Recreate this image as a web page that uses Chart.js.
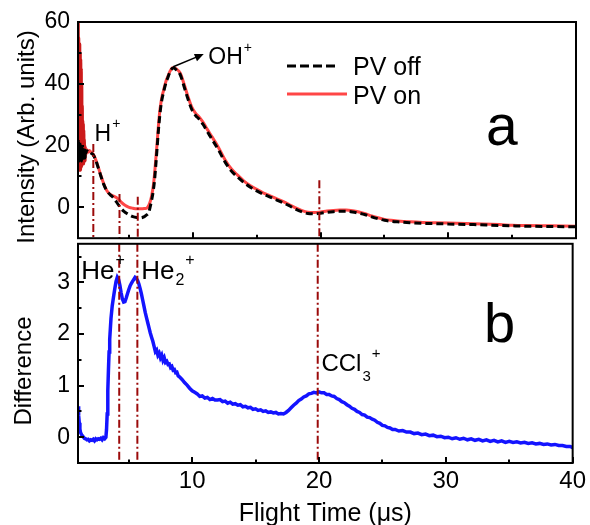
<!DOCTYPE html>
<html><head><meta charset="utf-8">
<script src="https://cdn.jsdelivr.net/npm/chart.js@4.4.0/dist/chart.umd.min.js"></script>
<style>
html,body{margin:0;padding:0;background:#fff;}
#wrap{position:relative;width:590px;height:525px;overflow:hidden;background:#fff;}
canvas{position:absolute;left:0;}
#cA{top:0;}
#cB{top:222px;}
</style></head><body>
<div id="wrap"><canvas id="cA" width="590" height="260"></canvas><canvas id="cB" width="590" height="303"></canvas></div>
<script>
// ---------- data ----------
const timeA = [
1.00,1.02,1.04,1.06,1.08,1.10,1.12,1.14,1.16,1.18,
1.20,1.22,1.24,1.26,1.28,1.30,1.32,1.34,1.36,1.38,
1.40,1.42,1.44,1.46,1.48,1.50,1.52,1.54,1.56,1.58,
1.60,1.70,1.80,1.90,2.00,2.10,2.20,
2.40,2.60,2.80,3.00,3.20,3.40,3.60,3.80,4.00,4.20,
4.40,4.60,4.80,5.00,5.30,5.60,5.90,6.20,6.40,6.50,
6.60,6.70,6.80,6.90,7.00,7.10,7.20,7.30,7.40,7.50,
7.60,7.70,7.80,7.90,8.00,8.20,8.40,8.50,8.70,9.00,
9.30,9.60,9.90,10.20,10.50,10.80,11.10,11.50,12.00,12.50,
13.00,13.50,14.00,14.50,15.00,15.50,16.00,16.50,17.00,17.50,
18.00,18.50,19.00,19.50,20.00,20.50,21.00,21.50,22.00,22.50,
23.00,23.50,24.00,24.50,25.00,25.50,26.00,27.00,28.00,29.00,
30.00,32.00,34.00,35.00,36.00,38.00,40.00];
const pvOn = [
13,60,12,55,13,52,12,53,14,50,
12,48,15,45,13,40,15,33,14,28,
16,27,14,25,15,22,16,20,15,19.5,
17,18.6,17.8,18.4,17.9,17.6,17.2,
15.3,12.8,10.2,7.8,5.8,4.6,4.0,3.6,3.2,2.5,
1.6,0.9,0.4,0.0,-0.3,-0.5,-0.5,-0.4,-0.2,0.3,
1.2,2.5,4.5,7.0,11,16,21,26.5,31,34,
36.3,37.8,39.5,41,42,44,45.2,45.3,44.8,43.5,
40,36,32.5,30.5,29.2,27.5,25.4,22.8,19.4,15.5,
12.5,10.4,8.5,7.0,5.8,4.7,3.8,2.9,2.0,1.0,
-0.1,-1.0,-1.6,-1.7,-1.5,-1.2,-1.0,-0.9,-0.9,-1.1,
-1.5,-2.1,-2.8,-3.4,-3.9,-4.2,-4.4,-4.7,-4.9,-5.0,
-5.1,-5.3,-5.6,-5.8,-5.9,-6.0,-6.1];
const pvOff = [
16,22,15,21,16,20,15,21,16,20,
15,20,16,19,15,20,16,19,15,19,
16,19,15,18.5,16,18.5,16,18.5,16,18.5,
17.5,18.3,18.0,18.2,17.7,17.3,17.0,
15.1,12.6,10.0,7.6,5.8,4.6,3.8,3.0,1.8,0.6,
-0.5,-1.3,-1.9,-2.4,-3.0,-3.3,-3.4,-3.0,-2.4,-2.0,
-0.8,1.0,3.0,5.5,9,14,19.5,25,29.5,33,
35.5,37.2,39,40.5,41.6,43.8,45,45.1,44.5,43,
39.2,35.2,31.8,29.8,28.5,26.8,24.7,22,18.6,14.8,
11.8,9.8,8.0,6.5,5.3,4.3,3.4,2.5,1.6,0.6,
-0.5,-1.4,-2.0,-2.1,-1.9,-1.6,-1.4,-1.3,-1.3,-1.5,
-1.9,-2.4,-3.1,-3.7,-4.2,-4.5,-4.7,-5.0,-5.2,-5.3,
-5.4,-5.6,-5.9,-6.0,-6.1,-6.2,-6.3];

const timeB = [
1.0,1.05,1.1,1.15,1.2,1.3,1.4,1.5,1.6,1.7,
1.8,1.9,2.0,2.1,2.2,2.3,2.4,2.5,2.6,2.7,
2.8,2.9,3.0,3.1,3.2,3.25,3.3,3.35,3.4,3.45,
3.5,3.6,3.7,3.8,3.9,4.0,4.1,4.2,4.3,4.4,
4.5,4.6,4.7,4.8,4.9,5.0,5.1,5.2,5.3,5.4,
5.5,5.6,5.7,5.8,5.9,6.0,6.1,6.2,6.3,6.4,
6.5,6.6,6.7,6.8,6.9,7.0,7.1,7.2,7.3,7.4,
7.5,7.6,7.7,7.8,7.9,8.0,8.1,8.2,8.3,8.4,
8.5,8.6,8.7,8.8,8.9,9.0,9.2,9.4,9.6,9.8,
10.0,10.2,10.4,10.6,10.8,11.0,11.2,11.4,11.6,11.8,
12.0,12.2,12.4,12.6,12.8,13.0,13.2,13.4,13.6,13.8,
14.0,14.2,14.4,14.6,14.8,15.0,15.2,15.4,15.6,15.8,
16.0,16.2,16.4,16.6,16.8,17.0,17.2,17.4,17.6,17.8,
18.0,18.2,18.4,18.6,18.8,19.0,19.2,19.4,19.6,19.8,
20.0,20.2,20.4,20.6,20.8,21.0,21.2,21.4,21.6,21.8,
22.0,22.2,22.4,22.6,22.8,23.0,23.2,23.4,23.6,23.8,
24.0,24.2,24.4,24.6,24.8,25.0,25.2,25.4,25.6,25.8,
26.0,26.3,26.6,26.9,27.2,27.5,27.8,28.1,28.4,28.7,
29.0,29.3,29.6,29.9,30.2,30.5,30.8,31.1,31.4,31.7,
32.0,32.3,32.6,32.9,33.2,33.5,33.8,34.1,34.4,34.7,
35.0,35.3,35.6,35.9,36.2,36.5,36.8,37.1,37.4,37.7,
38.0,38.3,38.6,38.9,39.2,39.5,39.8,40.0];
const diffB = [
0.60,0.42,0.28,0.16,0.09,0.04,0.01,-0.02,-0.03,-0.05,
-0.04,-0.07,-0.05,-0.06,-0.04,-0.07,-0.03,-0.05,-0.03,-0.04,
-0.02,-0.05,-0.01,-0.03,0.00,0.15,0.45,0.90,1.30,1.65,
1.90,2.30,2.55,2.72,2.88,3.02,3.10,3.06,2.95,2.80,
2.68,2.62,2.63,2.70,2.78,2.86,2.93,2.98,3.02,3.06,
3.10,3.08,3.04,2.97,2.88,2.78,2.66,2.54,2.42,2.32,
2.22,2.12,2.02,1.94,1.86,1.76,1.66,1.69,1.59,1.63,
1.54,1.59,1.49,1.54,1.45,1.47,1.41,1.42,1.35,1.37,
1.30,1.31,1.25,1.26,1.19,1.17,1.12,1.06,1.01,0.95,
0.90,0.87,0.84,0.79,0.80,0.76,0.77,0.73,0.75,0.72,
0.72,0.73,0.69,0.70,0.66,0.68,0.64,0.65,0.62,0.63,
0.59,0.60,0.57,0.58,0.54,0.55,0.52,0.53,0.50,0.51,
0.48,0.49,0.47,0.48,0.45,0.46,0.45,0.48,0.52,0.57,
0.62,0.66,0.71,0.74,0.78,0.80,0.84,0.85,0.87,0.86,
0.88,0.86,0.86,0.83,0.83,0.80,0.79,0.75,0.73,0.69,
0.67,0.63,0.60,0.56,0.54,0.50,0.48,0.44,0.43,0.39,
0.38,0.35,0.33,0.29,0.27,0.23,0.22,0.19,0.18,0.15,
0.15,0.12,0.13,0.10,0.10,0.07,0.08,0.05,0.06,0.03,
0.04,0.01,0.02,-0.01,0.00,-0.03,-0.01,-0.04,-0.02,-0.05,
-0.03,-0.06,-0.04,-0.07,-0.05,-0.08,-0.06,-0.09,-0.07,-0.10,
-0.08,-0.10,-0.09,-0.11,-0.10,-0.12,-0.11,-0.13,-0.12,-0.14,
-0.13,-0.15,-0.14,-0.16,-0.16,-0.18,-0.18,-0.20];

// peak marker lines (x positions) and where each starts in panel a
const markerNames = ['H+','He+','He2+','CCl3+'];
const markerTimes = [2.2, 4.25, 5.68, 19.9];
const markerTopA  = [20.5, 4.3, 3.4, 8.8];

// axis ticks
const xMajor = [10,20,30,40];
const xMinor = [5,15,25,35];
const yMajorA = [0,20,40,60];
const yMinorA = [10,30,50];
const yMajorB = [0,1,2,3];
const yMinorB = [0.5,1.5,2.5,3.5];

// ---------- drawing ----------
const FONT = '"Liberation Sans", Arial, Helvetica, sans-serif';
Chart.defaults.font.family = FONT;
Chart.defaults.color = '#000';
Chart.defaults.animation = false;

const RED = '#ff4646', DARKRED = '#cc1a1a', BLUE = '#1414ff', MARK = '#9b0a0a';
const DASHDOT = [8,3,2,3];

function pts(xs, ys){ return xs.map((x,i)=>({x:x, y:ys[i]})); }

const frameTicks = {
  id: 'frameTicks',
  afterDatasetsDraw(chart, args, o) {
    const {ctx, chartArea: a} = chart;
    const xs = chart.scales.x, ys = chart.scales.y;
    ctx.save();
    ctx.setLineDash([]);
    ctx.strokeStyle = '#000';
    ctx.lineWidth = 2;
    ctx.strokeRect(a.left, a.top, a.right - a.left, a.bottom - a.top);
    ctx.beginPath();
    o.yMajor.forEach(v => { const p = Math.round(ys.getPixelForValue(v)); ctx.moveTo(a.left, p); ctx.lineTo(a.left + 6, p); });
    o.yMinor.forEach(v => { const p = Math.round(ys.getPixelForValue(v)); ctx.moveTo(a.left, p); ctx.lineTo(a.left + 3.5, p); });
    xMajor.forEach(v => { const p = Math.round(xs.getPixelForValue(v)); ctx.moveTo(p, a.bottom); ctx.lineTo(p, a.bottom - 6); });
    xMinor.forEach(v => { const p = Math.round(xs.getPixelForValue(v)); ctx.moveTo(p, a.bottom); ctx.lineTo(p, a.bottom - 3.5); });
    ctx.stroke();
    ctx.restore();
  }
};

function richText(ctx, x, y, base, size, sub, sup, subDy) {
  ctx.textAlign = 'left'; ctx.textBaseline = 'alphabetic'; ctx.fillStyle = '#000';
  ctx.font = size + 'px ' + FONT;
  ctx.fillText(base, x, y);
  let cx = x + ctx.measureText(base).width + 1;
  const small = Math.round(size * 0.62);
  ctx.font = small + 'px ' + FONT;
  if (sub) { ctx.fillText(sub, cx, y + (subDy || size * 0.3)); cx += ctx.measureText(sub).width + 1; }
  if (sup) { ctx.fillText(sup, cx, y - size * 0.55); }
}
function rotTitle(ctx, text, cx, cy, size) {
  ctx.save();
  ctx.translate(cx, cy); ctx.rotate(-Math.PI / 2);
  ctx.font = size + 'px ' + FONT; ctx.fillStyle = '#000';
  ctx.textAlign = 'center'; ctx.textBaseline = 'middle';
  ctx.fillText(text, 0, 0);
  ctx.restore();
}

const annotA = {
  id: 'annotA',
  afterDraw(chart) {
    const {ctx, chartArea: a} = chart;
    const X = v => chart.scales.x.getPixelForValue(v), Y = v => chart.scales.y.getPixelForValue(v);
    ctx.save();
    richText(ctx, X(2.3), Y(21.5), 'H', 23, null, '+');
    richText(ctx, X(11.2), Y(46.3), 'OH', 23, null, '+');
    // arrow from the OH+ peak to its label
    const x0 = X(8.46), y0 = Y(45.5), x1 = X(10.85), y1 = Y(49.6);
    const ang = Math.atan2(y1 - y0, x1 - x0);
    ctx.strokeStyle = '#000'; ctx.fillStyle = '#000'; ctx.lineWidth = 1.5;
    ctx.beginPath(); ctx.moveTo(x0, y0); ctx.lineTo(x1 - 6 * Math.cos(ang), y1 - 6 * Math.sin(ang)); ctx.stroke();
    ctx.beginPath();
    ctx.moveTo(x1, y1);
    ctx.lineTo(x1 - 9 * Math.cos(ang) + 4 * Math.sin(ang), y1 - 9 * Math.sin(ang) - 4 * Math.cos(ang));
    ctx.lineTo(x1 - 9 * Math.cos(ang) - 4 * Math.sin(ang), y1 - 9 * Math.sin(ang) + 4 * Math.cos(ang));
    ctx.closePath(); ctx.fill();
    // legend
    const lx = a.left + 209, lx2 = a.left + 269;
    ctx.lineWidth = 3;
    ctx.strokeStyle = '#000'; ctx.setLineDash([9, 4]);
    ctx.beginPath(); ctx.moveTo(lx, a.top + 44); ctx.lineTo(lx2 - 12, a.top + 44); ctx.stroke();
    ctx.setLineDash([]);
    ctx.strokeStyle = RED;
    ctx.beginPath(); ctx.moveTo(lx, a.top + 72); ctx.lineTo(lx2, a.top + 72); ctx.stroke();
    ctx.font = '25px ' + FONT; ctx.fillStyle = '#000'; ctx.textAlign = 'left'; ctx.textBaseline = 'alphabetic';
    ctx.fillText('PV off', a.left + 275, a.top + 53);
    ctx.fillText('PV on', a.left + 275, a.top + 82);
    // panel letter
    ctx.font = '57px ' + FONT;
    ctx.fillText('a', a.left + 408, a.top + 123);
    rotTitle(ctx, 'Intensity (Arb. units)', 27, 137, 24);
    ctx.restore();
  }
};

const annotB = {
  id: 'annotB',
  afterDraw(chart) {
    const {ctx, chartArea: a} = chart;
    const X = v => chart.scales.x.getPixelForValue(v), Y = v => chart.scales.y.getPixelForValue(v);
    ctx.save();
    richText(ctx, X(1.25), Y(3.058), 'He', 26, null, '+');
    richText(ctx, X(5.98), Y(3.058), 'He', 26, '2', '+', 6);
    richText(ctx, X(20.19), Y(1.288), 'CCl', 24, '3', '+', 10);
    ctx.font = '56px ' + FONT; ctx.fillStyle = '#000'; ctx.textAlign = 'left'; ctx.textBaseline = 'alphabetic';
    ctx.fillText('b', a.left + 406, a.top + 98);
    rotTitle(ctx, 'Difference', 24, 149, 24);
    ctx.restore();
  }
};

function markerSet(i, top, bottom) {
  return { label: markerNames[i], data: [{x: markerTimes[i], y: top}, {x: markerTimes[i], y: bottom}],
    borderColor: MARK, borderWidth: 2, borderDash: DASHDOT, pointRadius: 0, order: 0 };
}

new Chart(document.getElementById('cA'), {
  type: 'line',
  data: { datasets: [
    { label: 'PV off', data: pts(timeA, pvOff), borderColor: '#000', borderWidth: 3, borderDash: [7, 4],
      pointRadius: 0, cubicInterpolationMode: 'monotone', order: 1 },
    { label: 'PV on', data: pts(timeA, pvOn), borderColor: RED, borderWidth: 3,
      pointRadius: 0, cubicInterpolationMode: 'monotone', order: 2,
      segment: { borderColor: c => c.p0.parsed.x < 1.6 ? DARKRED : undefined } },
    markerSet(0, markerTopA[0], -10), markerSet(1, markerTopA[1], -10),
    markerSet(2, markerTopA[2], -10), markerSet(3, markerTopA[3], -10)
  ]},
  options: {
    responsive: false, animation: false,
    layout: { padding: { left: 0, right: 14, top: 22, bottom: 18 } },
    plugins: { legend: { display: false }, tooltip: { enabled: false },
      frameTicks: { yMajor: yMajorA, yMinor: yMinorA } },
    scales: {
      x: { type: 'linear', min: 1, max: 40, display: false },
      y: { type: 'linear', min: -10, max: 60,
        afterBuildTicks: s => { s.ticks = yMajorA.map(v => ({value: v})); },
        afterFit: s => { s.width = 78; },
        grid: { display: false, drawTicks: false }, border: { display: false },
        ticks: { font: { size: 23 }, padding: 8, color: '#000' } }
    }
  },
  plugins: [frameTicks, annotA]
});

new Chart(document.getElementById('cB'), {
  type: 'line',
  data: { datasets: [
    { label: 'Difference', data: pts(timeB, diffB), borderColor: BLUE, borderWidth: 3.5,
      pointRadius: 0, tension: 0, order: 1 },
    markerSet(1, 3.75, -0.5), markerSet(2, 3.75, -0.5), markerSet(3, 3.75, -0.5)
  ]},
  options: {
    responsive: false, animation: false,
    layout: { padding: { left: 0, right: 14, top: 20, bottom: 0 } },
    plugins: { legend: { display: false }, tooltip: { enabled: false },
      frameTicks: { yMajor: yMajorB, yMinor: yMinorB } },
    scales: {
      x: { type: 'linear', min: 1, max: 40,
        afterBuildTicks: s => { s.ticks = xMajor.map(v => ({value: v})); },
        afterFit: s => { s.height = 62; },
        grid: { display: false, drawTicks: false }, border: { display: false },
        ticks: { font: { size: 24 }, padding: 4, color: '#000', maxRotation: 0 },
        title: { display: true, text: 'Flight Time (\u03bcs)', font: { size: 25, lineHeight: 1 }, padding: { top: 0, bottom: -2 }, color: '#000' } },
      y: { type: 'linear', min: -0.5, max: 3.75,
        afterBuildTicks: s => { s.ticks = yMajorB.map(v => ({value: v})); },
        afterFit: s => { s.width = 78; },
        grid: { display: false, drawTicks: false }, border: { display: false },
        ticks: { font: { size: 23 }, padding: 8, color: '#000' } }
    }
  },
  plugins: [frameTicks, annotB]
});
</script>
</body></html>
